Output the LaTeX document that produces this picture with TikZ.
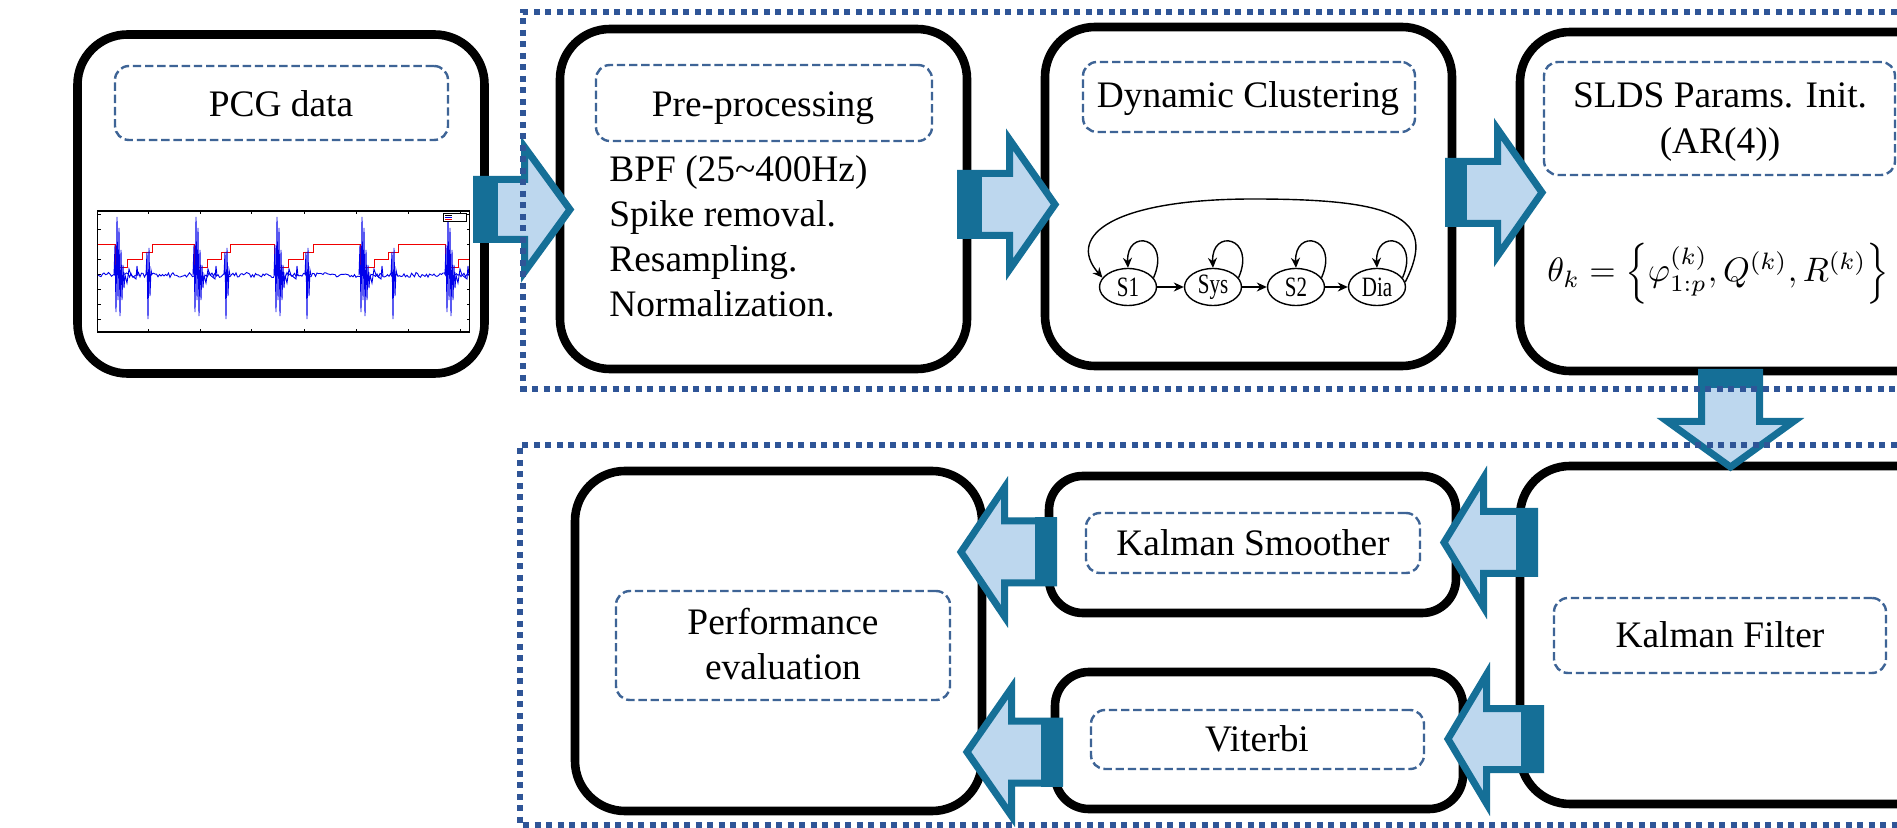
\documentclass[tikz,border=0pt]{standalone}
\usepackage{fontspec}
\setmainfont{Liberation Serif}
\usetikzlibrary{arrows.meta,shapes.geometric}
\definecolor{arrdark}{RGB}{21,111,151}
\definecolor{arrlight}{RGB}{189,215,238}
\definecolor{dotblue}{RGB}{47,85,151}
\definecolor{dashblue}{RGB}{62,100,150}
\definecolor{sigblue}{RGB}{0,0,235}
\definecolor{sigred}{RGB}{240,0,0}
\tikzset{
 stagebox/.style={draw=black, line width=4.3pt, fill=white, rounded corners=25pt, inner sep=0pt},
 smallbox/.style={stagebox, rounded corners=17pt},
 dashbox/.style={draw=dashblue, line width=1.2pt, dash pattern=on 4.2pt off 1.9pt, rounded corners=7pt, inner sep=0pt},
 groupbox/.style={draw=dotblue, line width=2.8pt, dash pattern=on 3pt off 2.75pt},
 lbl/.style={anchor=base, inner sep=0pt, font=\fontsize{18.7}{22.5}\selectfont},
 lblw/.style={lbl, anchor=base west},
 arrbody/.style={draw=arrdark, fill=arrlight, line width=3.5pt, line join=miter},
 st/.style={ellipse, draw, line width=0.7pt, minimum width=28.5pt, minimum height=18.5pt, inner sep=0pt, font=\fontsize{14}{14}\selectfont},
 sarr/.style={line width=0.7pt, -{Stealth[length=5pt,width=4.5pt]}},
 sig/.style={sigblue, line width=0.45pt},
 thinax/.style={line width=0.4pt},
}
% tail, dark end, head base, tip, centre y, shaft half, head half, sign
\newcommand\hbarrow[8]{%
 \draw[arrbody] ({#1+(#8)*3.5},{#5-#6+3.5}) -- ({#3+(#8)*3.5},{#5-#6+3.5}) -- ({#3+(#8)*3.5},{#5-#7+7}) -- ({#4-(#8)*8},{#5}) -- ({#3+(#8)*3.5},{#5+#7-7}) -- ({#3+(#8)*3.5},{#5+#6-3.5}) -- ({#1+(#8)*3.5},{#5+#6-3.5}) -- cycle;
 \fill[arrdark] ({#1},{#5-#6}) rectangle ({#2},{#5+#6});
}
\newcommand\spikeone[1]{%
 \begin{scope}[shift={(#1,0)}]
 \draw[sig] (-3,275)--(-2,245)--(-1,312)--(0,217)--(1,300)--(2,228)--(3,316)--(4,250)--(5,300)--(6,265)--(7,288)--(8,275)--(10,283)--(12,269)--(14,275)--(19,279)--(20,266)--(21,276);
 \end{scope}}
\newcommand\spiketwo[1]{%
 \begin{scope}[shift={(#1,0)}]
 \draw[sig] (-2,275)--(-1,252)--(0,319)--(1,248)--(2,296)--(3,270)--(4,275);
 \end{scope}}
\begin{document}
\begin{tikzpicture}[x=0.5pt,y=-0.5pt]
\useasboundingbox (0,0) rectangle (1897,828);
\clip (0,0) rectangle (1897,828);

% stage boxes
\node[stagebox, minimum width=203.5pt, minimum height=169.5pt] (pcg) at (281,204) {};
\node[stagebox, minimum width=203.5pt, minimum height=170pt] (pre) at (763.5,199) {};
\node[stagebox, minimum width=203.5pt, minimum height=169.5pt] (dc) at (1248.5,196.5) {};
\node[stagebox, minimum width=215pt, minimum height=169.5pt] (slds) at (1735,201.5) {};
\node[stagebox, minimum width=203.5pt, minimum height=170pt] (perf) at (778.5,641) {};
\node[smallbox, minimum width=203.5pt, minimum height=68.5pt] (ks) at (1252.5,544.5) {};
\node[smallbox, minimum width=204pt, minimum height=68.5pt] (vit) at (1259,740.5) {};
\node[stagebox, minimum width=215pt, minimum height=169pt] (kf) at (1735,635) {};

% inner dashed title boxes
\node[dashbox, minimum width=166.5pt, minimum height=37pt] (pcgd) at (281.5,103) {};
\node[dashbox, minimum width=168pt, minimum height=38pt] (pred) at (764,103) {};
\node[dashbox, minimum width=166pt, minimum height=35pt] (dcd) at (1249,97) {};
\node[dashbox, minimum width=175.5pt, minimum height=56.5pt] (sldsd) at (1719.5,118.5) {};
\node[dashbox, minimum width=167pt, minimum height=54.5pt] (perfd) at (783,645.5) {};
\node[dashbox, minimum width=167pt, minimum height=30pt] (ksd) at (1253,543) {};
\node[dashbox, minimum width=166.5pt, minimum height=29.5pt] (vitd) at (1257.5,739.5) {};
\node[dashbox, minimum width=166pt, minimum height=37.5pt] (kfd) at (1720,635.5) {};

% labels
\node[lbl] (pcgl) at (281,117) {PCG data};
\node[lbl] (prel) at (763,117) {Pre-processing};
\node[lblw] (pre1) at (609,182) {BPF (25\textasciitilde400Hz)};
\node[lblw] (pre2) at (609,227) {Spike removal.};
\node[lblw] (pre3) at (609,272) {Resampling.};
\node[lblw] (pre4) at (609,317) {Normalization.};
\node[lbl] (dcl) at (1248,108) {Dynamic Clustering};
\node[lbl] (sldsl1) at (1720,108) {SLDS Params. Init.};
\node[lbl] (sldsl2) at (1720,154) {(AR(4))};
\node[lbl] (perfl1) at (783,635) {Performance};
\node[lbl] (perfl2) at (783,680) {evaluation};
\node[lbl] (ksl) at (1253,556) {Kalman Smoother};
\node[lbl] (vitl) at (1257,751) {Viterbi};
\node[lbl] (kfl) at (1720,647) {Kalman Filter};
\node[anchor=base west, inner sep=0pt] (theta) at (1547,282)
 {\resizebox{171pt}{!}{$\theta_k=\left\{\varphi_{1:p}^{(k)},Q^{(k)},R^{(k)}\right\}$}};

% PCG plot
\draw[line width=0.6pt] (97.5,211) rectangle (469.5,332);
\foreach \tx in {148,200,251,304,356,408,460} {
 \draw[thinax] (\tx,332) -- (\tx,329);
 \draw[thinax] (\tx,211) -- (\tx,214);
}
\foreach \ty in {214,229,244,259,274,289,304,319} {
 \draw[thinax] (97.5,\ty) -- (100.5,\ty);
 \draw[thinax] (469.5,\ty) -- (466.5,\ty);
}
\draw[sigred, line width=0.45pt] (98,244) -- (115,244) -- (115,267) -- (127,267) -- (127,259) -- (142,259) -- (142,252) -- (152,252) -- (152,244)
 -- (194,244) -- (194,267) -- (207,267) -- (207,259) -- (221,259) -- (221,252) -- (230,252) -- (230,244)
 -- (274,244) -- (274,267) -- (288,267) -- (288,259) -- (303,259) -- (303,252) -- (313,252) -- (313,244)
 -- (360,244) -- (360,267) -- (374,267) -- (374,259) -- (388,259) -- (388,252) -- (398,252) -- (398,244)
 -- (445,244) -- (445,267) -- (458,267) -- (458,259) -- (469,259);
\pgfmathsetseed{3}
\draw[sig] (98,275) \foreach \xx in {99.5,101,...,469} {-- (\xx,{275+2.5*rand})};
\spikeone{117}\spikeone{196}\spikeone{277}\spikeone{362}\spikeone{448}
\spiketwo{148}\spiketwo{226}\spiketwo{307}\spiketwo{393}
\draw[line width=0.4pt, fill=white] (443,213) rectangle (466,221);
\draw[line width=0.4pt] (445,215) -- (452,215);
\draw[sigblue, line width=0.4pt] (445,217.3) -- (452,217.3);
\draw[sigred, line width=0.4pt] (445,219.5) -- (452,219.5);

% state diagram
\node[st] (s1) at (1128,287) {\scalebox{0.75}[1]{S1}};
\node[st] (sys) at (1213,287) {\scalebox{0.75}[1]{Sys}};
\node[st] (s2) at (1296,287) {\scalebox{0.75}[1]{S2}};
\node[st] (dia) at (1377,287) {\scalebox{0.75}[1]{Dia}};
\draw[sarr] (s1) -- (sys);
\draw[sarr] (sys) -- (s2);
\draw[sarr] (s2) -- (dia);
\foreach \n in {s1,sys,s2,dia} {
 \draw[sarr] (\n.20) .. controls +(18,-41) and +(-2,-40) .. (\n.north);
}
\draw[sarr] (dia.10) .. controls (1440,215) and (1390,199) .. (1253,199) .. controls (1115,199) and (1065,235) .. (s1.160);

% block arrows
\hbarrow{473}{498}{521}{578}{209.5}{33.5}{69.5}{1}
\hbarrow{957}{982}{1006}{1063}{204.5}{34.5}{72}{1}
\hbarrow{1445}{1467}{1494}{1550}{192.5}{34.5}{70.5}{1}
\hbarrow{1538}{1516}{1487}{1436}{542.5}{34.5}{71.5}{-1}
\hbarrow{1544}{1521}{1490}{1440}{739}{34}{71.5}{-1}
\hbarrow{1057}{1035}{1008}{953}{552}{34.5}{71.5}{-1}
\hbarrow{1063}{1041}{1015}{959}{752}{34.5}{71}{-1}
\draw[arrbody] (1701.5,372.5) -- (1701.5,421.5) -- (1667.5,421.5) -- (1730.5,467) -- (1793.5,421.5) -- (1759.5,421.5) -- (1759.5,372.5) -- cycle;
\fill[arrdark] (1698,369) rectangle (1763,388);

% group boxes
\draw[groupbox] (2000,12) -- (523,12) -- (523,389) -- (2000,389);
\draw[groupbox] (2000,445) -- (520,445) -- (520,825) -- (2000,825);
\end{tikzpicture}
\end{document}
